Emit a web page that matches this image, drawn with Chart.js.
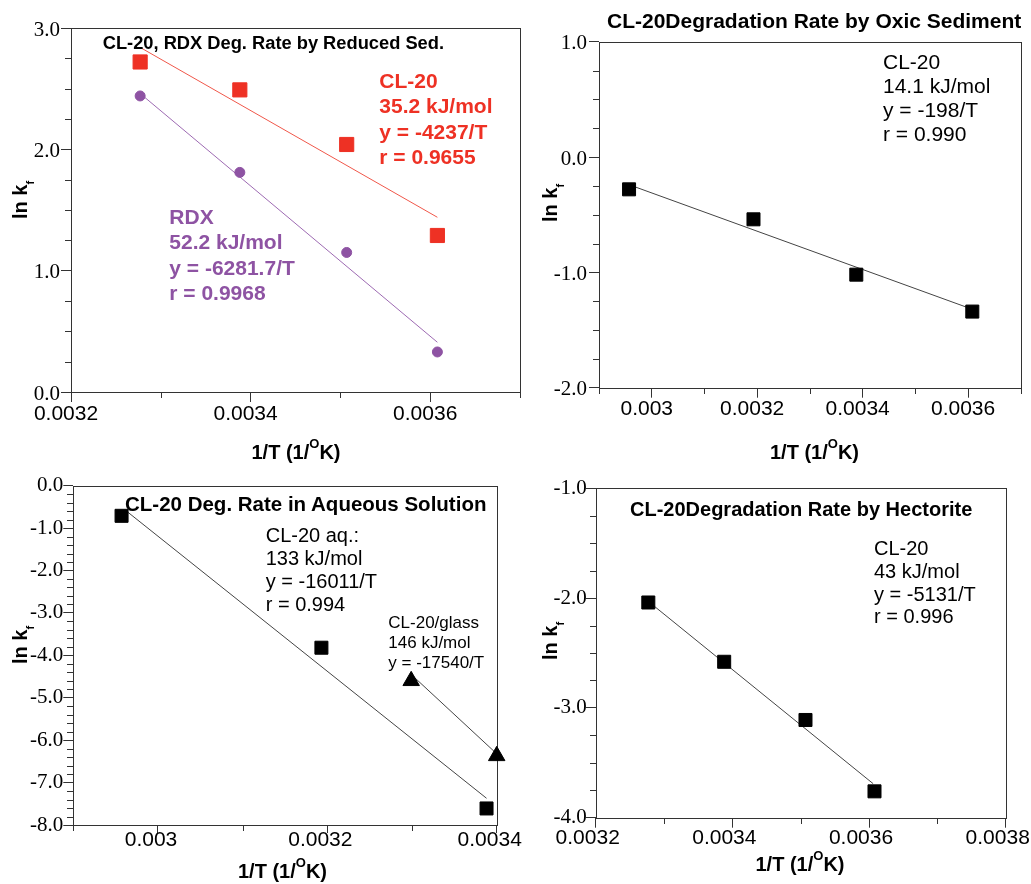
<!DOCTYPE html>
<html>
<head>
<meta charset="utf-8">
<script src="https://cdn.jsdelivr.net/npm/chart.js@4.4.0/dist/chart.umd.min.js"></script>
<style>
  body { margin: 0; background: #fff; overflow: hidden; }
  #page { position: relative; width: 1031px; height: 884px; font-family: "Liberation Sans", Arial, sans-serif; color: #000; }
  canvas { position: absolute; }
  .t { position: absolute; white-space: nowrap; }
  .b { font-weight: bold; }
  .ylab { position: absolute; width: 100px; height: 20px; line-height: 20px; font-size: 20px; font-weight: bold; text-align: center; white-space: nowrap; transform: rotate(-90deg); }
  .ylab sub { font-size: 11px; vertical-align: -7px; line-height: 0; }
  .xlab { position: absolute; width: 200px; line-height: 24px; font-size: 20px; font-weight: bold; text-align: center; white-space: nowrap; }
  .xlab sup { font-size: 13px; vertical-align: 11px; line-height: 0; }
</style>
</head>
<body>
<div id="page">
  <canvas id="reduced" width="531" height="440" style="left:0;top:0"></canvas>
  <canvas id="oxic" width="506" height="440" style="left:525px;top:0"></canvas>
  <canvas id="aqueous" width="531" height="414" style="left:0;top:470px"></canvas>
  <canvas id="hectorite" width="506" height="414" style="left:525px;top:470px"></canvas>

  <!-- top left -->
  <div class="t b" style="left:102.7px;top:31.7px;font-size:18.3px;line-height:22px">CL-20, RDX Deg. Rate by Reduced Sed.</div>
  <div class="t b" style="left:379.3px;top:67.5px;font-size:21px;line-height:25.5px;color:#ee3124">CL-20<br>35.2 kJ/mol<br>y = -4237/T<br>r = 0.9655</div>
  <div class="t b" style="left:169.3px;top:204.4px;font-size:21px;line-height:25.1px;color:#8e53a3">RDX<br>52.2 kJ/mol<br>y = -6281.7/T<br>r = 0.9968</div>
  <div class="ylab" style="left:-30.2px;top:190px">ln k<sub>f</sub></div>
  <div class="xlab" style="left:196px;top:440px">1/T (1/<sup>O</sup>K)</div>

  <!-- top right -->
  <div class="t b" style="left:607px;top:9px;font-size:21px;line-height:24px">CL-20Degradation Rate by Oxic Sediment</div>
  <div class="t" style="left:883px;top:50px;font-size:21px;line-height:23.9px">CL-20<br>14.1 kJ/mol<br>y = -198/T<br>r = 0.990</div>
  <div class="ylab" style="left:499.8px;top:193px">ln k<sub>f</sub></div>
  <div class="xlab" style="left:714.5px;top:440px">1/T (1/<sup>O</sup>K)</div>

  <!-- bottom left -->
  <div class="t b" style="left:125px;top:491.5px;font-size:20.5px;line-height:24px">CL-20 Deg. Rate in Aqueous Solution</div>
  <div class="t" style="left:265.7px;top:523.6px;font-size:20px;line-height:23.3px">CL-20 aq.:<br>133 kJ/mol<br>y = -16011/T<br>r = 0.994</div>
  <div class="t" style="left:388.3px;top:612.7px;font-size:17px;line-height:20px">CL-20/glass<br>146 kJ/mol<br>y = -17540/T</div>
  <div class="ylab" style="left:-30.2px;top:635px">ln k<sub>f</sub></div>
  <div class="xlab" style="left:182.5px;top:859.2px">1/T (1/<sup>O</sup>K)</div>

  <!-- bottom right -->
  <div class="t b" style="left:630px;top:497px;font-size:20px;line-height:24px">CL-20Degradation Rate by Hectorite</div>
  <div class="t" style="left:874px;top:537.1px;font-size:20px;line-height:22.8px">CL-20<br>43 kJ/mol<br>y = -5131/T<br>r = 0.996</div>
  <div class="ylab" style="left:499.8px;top:631px">ln k<sub>f</sub></div>
  <div class="xlab" style="left:700px;top:852.2px">1/T (1/<sup>O</sup>K)</div>
</div>

<script>
// reduced sediment: CL-20 and RDX
const invT_reduced = [0.003277, 0.003388, 0.003507, 0.003608];
const lnk_cl20_reduced = [2.72, 2.49, 2.04, 1.29];
const lnk_rdx_reduced = [2.44, 1.81, 1.15, 0.33];
const fitX_reduced = [0.003277, 0.003608];
const fit_cl20_reduced = [2.84, 1.44];
const fit_rdx_reduced = [2.46, 0.41];

// oxic sediment
const invT_oxic = [0.002957, 0.003193, 0.003388, 0.003608];
const lnk_oxic = [-0.28, -0.54, -1.02, -1.34];
const fitX_oxic = [0.002957, 0.003608];
const fit_oxic = [-0.24, -1.32];

// aqueous solution + glass
const invT_aq = [0.002957, 0.003193, 0.003388];
const lnk_aq = [-0.71, -3.82, -7.61];
const fitX_aq = [0.002961, 0.003388];
const fit_aq = [-0.57, -7.37];
const invT_glass = [0.003299, 0.0034];
const lnk_glass = [-4.60, -6.37];
const fit_glass = [-4.45, -6.32];

// hectorite
const invT_hect = [0.003277, 0.003388, 0.003507, 0.003608];
const lnk_hect = [-2.04, -2.58, -3.11, -3.76];
const fitX_hect = [0.003277, 0.003606];
const fit_hect = [-2.03, -3.69];

const RED = '#ee3124';
const PURPLE = '#8e53a3';
const AXIS = '#333';
const SERIF = "'Liberation Serif', 'Times New Roman', Times, serif";

const pts = (xs, ys) => xs.map((x, i) => ({ x, y: ys[i] }));
const isMajorX = v => Math.abs(v / 0.0002 - Math.round(v / 0.0002)) < 1e-6;
const isMajorY = v => Math.abs(v - Math.round(v)) < 1e-6;

// frame around the plot and short minor ticks
const framePlugin = {
    id: 'frame',
    beforeDatasetsDraw(chart) {
        const { ctx, chartArea: a } = chart;
        ctx.save();
        ctx.strokeStyle = AXIS;
        ctx.lineWidth = 1;
        ctx.strokeRect(Math.round(a.left) + 0.5, Math.round(a.top) + 0.5,
            Math.round(a.right) - Math.round(a.left), Math.round(a.bottom) - Math.round(a.top));
        ctx.beginPath();
        const sx = chart.scales.x, sy = chart.scales.y;
        sx.ticks.forEach(t => {
            if (isMajorX(t.value)) return;
            const px = Math.round(sx.getPixelForValue(t.value)) + 0.5;
            ctx.moveTo(px, Math.round(a.bottom));
            ctx.lineTo(px, Math.round(a.bottom) + 6);
        });
        sy.ticks.forEach(t => {
            if (isMajorY(t.value)) return;
            const py = Math.round(sy.getPixelForValue(t.value)) + 0.5;
            ctx.moveTo(Math.round(a.left) - 6, py);
            ctx.lineTo(Math.round(a.left), py);
        });
        ctx.stroke();
        ctx.restore();
    }
};

function fitLine(xs, ys, color) {
    return { data: pts(xs, ys), showLine: true, pointRadius: 0, borderColor: color, borderWidth: 1, clip: false };
}
function marks(xs, ys, style, radius, color) {
    return { data: pts(xs, ys), pointStyle: style, pointRadius: radius, backgroundColor: color,
        borderColor: color, borderWidth: 1, showLine: false, clip: false };
}

function panel(id, o) {
    return new Chart(document.getElementById(id), {
        type: 'scatter',
        data: { datasets: o.datasets },
        options: {
            responsive: false,
            animation: false,
            events: [],
            layout: { padding: { top: o.top, right: o.right, left: 0, bottom: 0 } },
            plugins: { legend: { display: false }, tooltip: { enabled: false } },
            scales: {
                x: {
                    min: o.xMin, max: o.xMax,
                    afterFit: s => { s.height = o.xHeight; s.paddingLeft = 0; s.paddingRight = 0; },
                    ticks: {
                        stepSize: 0.0001, autoSkip: false, maxRotation: 0, minRotation: 0,
                        padding: o.xPad, labelOffset: o.xShift, color: '#000',
                        font: { family: 'Liberation Sans', size: 21, lineHeight: 1 },
                        callback: v => isMajorX(v) ? String(+v.toFixed(4)) : ''
                    },
                    grid: {
                        drawOnChartArea: false, tickLength: o.xTick || 10,
                        tickColor: c => c.tick && isMajorX(c.tick.value) ? AXIS : 'rgba(0,0,0,0)'
                    },
                    border: { display: false }
                },
                y: {
                    min: o.yMin, max: o.yMax,
                    afterFit: s => { s.width = o.yWidth; s.paddingTop = 0; s.paddingBottom = 0; },
                    ticks: {
                        stepSize: o.yStep, autoSkip: false, padding: o.yPad, labelOffset: o.yShift || 0,
                        color: '#000',
                        font: { family: SERIF, size: 21, lineHeight: 1 },
                        callback: v => isMajorY(v) ? v.toFixed(1) : ''
                    },
                    grid: {
                        drawOnChartArea: false, tickLength: 10,
                        tickColor: c => c.tick && isMajorY(c.tick.value) ? AXIS : 'rgba(0,0,0,0)'
                    },
                    border: { display: false }
                }
            }
        },
        plugins: [framePlugin]
    });
}

panel('reduced', {
    top: 28, right: 10, yWidth: 71, xHeight: 48,
    xMin: 0.0032, xMax: 0.0037, yMin: 0, yMax: 3, yStep: 0.25,
    xPad: 1.5, xShift: -5, yPad: 1, yShift: 2,
    datasets: [
        marks(invT_reduced, lnk_cl20_reduced, 'rect', 10, RED),
        marks(invT_reduced, lnk_rdx_reduced, 'circle', 5, PURPLE),
        fitLine(fitX_reduced, fit_cl20_reduced, '#f0574a'),
        fitLine(fitX_reduced, fit_rdx_reduced, '#9d6ab2')
    ]
});

panel('oxic', {
    top: 41.7, right: 1, yWidth: 74, xHeight: 52.3,
    xMin: 0.0029, xMax: 0.0037, yMin: -2, yMax: 1, yStep: 0.25,
    xPad: 0.8, xShift: -5, yPad: 2, yShift: 2,
    datasets: [
        marks(invT_oxic, lnk_oxic, 'rect', 9.2, '#000'),
        fitLine(fitX_oxic, fit_oxic, '#444')
    ]
});

panel('aqueous', {
    top: 15.7, right: 34.3, yWidth: 73.3, xHeight: 59,
    xMin: 0.0029, xMax: 0.0034, yMin: -8, yMax: 0, yStep: 0.2,
    xPad: -3, xTick: 8, xShift: -7, yPad: 0,
    datasets: [
        marks(invT_aq, lnk_aq, 'rect', 9.2, '#000'),
        marks(invT_glass, lnk_glass, 'triangle', 9.5, '#000'),
        fitLine(fitX_aq, fit_aq, '#444'),
        fitLine(invT_glass, fit_glass, '#444')
    ]
});

panel('hectorite', {
    top: 18.3, right: 25.3, yWidth: 70.7, xHeight: 66.3,
    xMin: 0.0032, xMax: 0.0038, yMin: -4, yMax: -1, yStep: 0.25,
    xPad: 0, xShift: -8, yPad: -1,
    datasets: [
        marks(invT_hect, lnk_hect, 'rect', 9.2, '#000'),
        fitLine(fitX_hect, fit_hect, '#444')
    ]
});
</script>
</body>
</html>
